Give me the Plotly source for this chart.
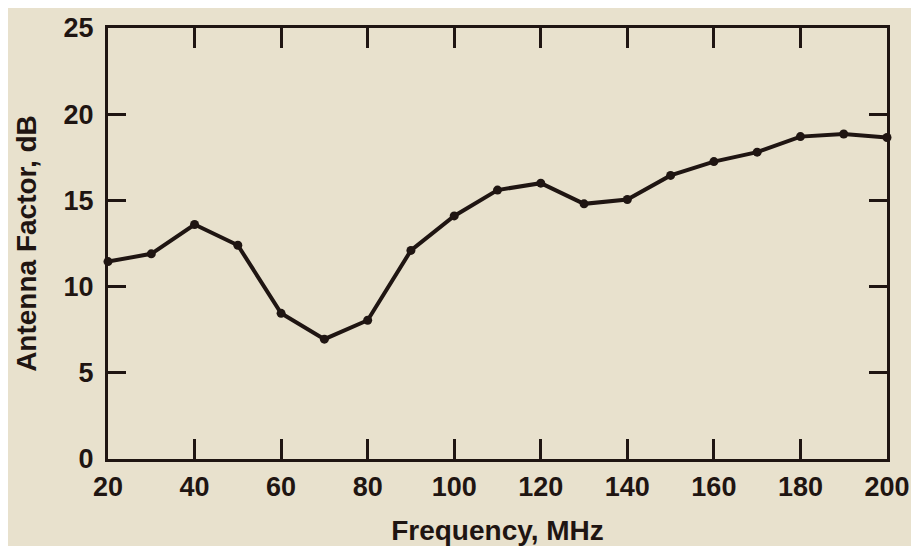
import plotly.graph_objects as go

freq_mhz = [20, 30, 40, 50, 60, 70, 80, 90, 100, 110, 120, 130, 140, 150, 160, 170, 180, 190, 200]
antenna_factor_db = [11.45, 11.9, 13.6, 12.4, 8.45, 6.95, 8.05, 12.1, 14.1, 15.6, 16.0, 14.8, 15.05, 16.45, 17.25, 17.8, 18.7, 18.85, 18.65]
x_ticks = [20, 40, 60, 80, 100, 120, 140, 160, 180, 200]
y_ticks = [0, 5, 10, 15, 20, 25]

ink = "#1f1512"
bg = "#e8e1cd"
fam = "Liberation Sans, Arial, sans-serif"

fig = go.Figure()
fig.add_trace(go.Scatter(
    x=freq_mhz, y=antenna_factor_db, mode="lines+markers",
    line=dict(color=ink, width=4),
    marker=dict(color=ink, size=9),
    showlegend=False, cliponaxis=False,
))

# page body adds an 8px margin; size the figure so the page does not scroll
fig.update_layout(
    width=911, height=538,
    paper_bgcolor=bg, plot_bgcolor=bg,
    margin=dict(l=100, r=32, t=20, b=87, autoexpand=False),
    font=dict(family=fam, color=ink),
)
fig.update_xaxes(
    range=[20, 200], tickvals=x_ticks, ticktext=[str(v) for v in x_ticks],
    showgrid=False, zeroline=False, showline=True, linecolor=ink, linewidth=3,
    mirror="ticks", ticks="inside", ticklen=20, tickwidth=3, tickcolor=ink,
    tickfont=dict(size=27, family=fam, color=ink, weight="bold"),
    ticklabelstandoff=2, automargin=False,
    title=dict(text="Frequency, MHz", font=dict(size=28, family=fam, color=ink, weight="bold"), standoff=27),
)
fig.update_yaxes(
    range=[0, 25], tickvals=y_ticks, ticktext=[str(v) for v in y_ticks],
    showgrid=False, zeroline=False, showline=True, linecolor=ink, linewidth=3,
    mirror="ticks", ticks="inside", ticklen=18, tickwidth=3, tickcolor=ink,
    tickfont=dict(size=27, family=fam, color=ink, weight="bold"),
    ticklabelstandoff=6, automargin=False,
    title=dict(text="Antenna Factor, dB", font=dict(size=28, family=fam, color=ink, weight="bold"), standoff=19),
)

fig.write_html("out.html")
